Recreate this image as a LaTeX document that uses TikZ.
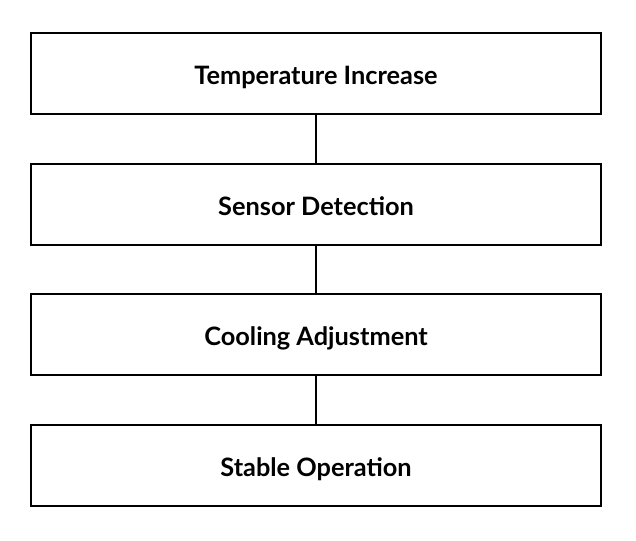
\documentclass[tikz,border=0pt]{standalone}
\usepackage{fontspec}
\setmainfont{Lato}
\usetikzlibrary{positioning}

\begin{document}
\begin{tikzpicture}[
        x=0.75pt, y=-0.75pt,
        stage/.style={draw, line width=1.5pt, minimum width=427pt, minimum height=60.75pt, inner sep=0pt, text height=15.8pt, text depth=0pt, font=\fontsize{19}{23}\selectfont\bfseries},
        link/.style={line width=1.5pt}
    ]
        \useasboundingbox (0, 0) rectangle (636, 540);

        % Stages
        \node[stage] (T) at (316, 73.5) {Temperature Increase};
        \node[stage] (S) at (316, 204.5) {Sensor Detection};
        \node[stage] (C) at (316, 334.5) {Cooling Adjustment};
        \node[stage] (O) at (316, 465.5) {Stable Operation};

        % Links
        \draw[link] (T) -- (S);
        \draw[link] (S) -- (C);
        \draw[link] (C) -- (O);

    \end{tikzpicture}
\end{document}
